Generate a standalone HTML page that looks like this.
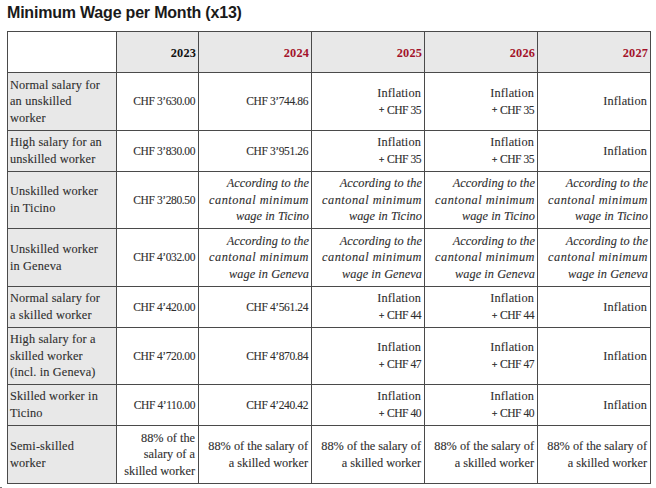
<!DOCTYPE html>
<html><head><meta charset="utf-8">
<style>
html,body{margin:0;padding:0;background:#fff;width:656px;height:488px;overflow:hidden}
body{position:relative;font-family:"Liberation Serif",serif;color:#2e2e2e}
td{-webkit-text-stroke:0.1px #2e2e2e}
h1{position:absolute;left:7px;top:3px;margin:0;font-family:"Liberation Sans",sans-serif;font-weight:bold;font-size:16px;letter-spacing:-0.2px;line-height:20px;color:#1a1a1a;white-space:nowrap}
table{position:absolute;left:7px;top:31px;border-collapse:collapse;table-layout:fixed;width:644px}
td,th{border:1px solid #4a4a4a;letter-spacing:0.15px;padding:0 3px 0 2px;vertical-align:middle;text-align:right;font-size:12.3px;line-height:16.6px;font-weight:normal;white-space:nowrap;overflow:hidden}
th{background:#e8e8e8;font-weight:bold;color:#111;padding-right:2px;padding-top:2px}
th.r{color:#a3122a}
th.blank{background:#fff}
td.l{background:#e8e8e8;text-align:left}
.n{font-size:11.5px;letter-spacing:-0.4px}
.p{font-size:11.6px;letter-spacing:-0.5px;line-height:10px}
.i{font-style:italic;letter-spacing:0.05px;padding-right:2px}
.e{letter-spacing:0}
.c{letter-spacing:0.5px}
.pl{font-size:10px;font-weight:bold;position:relative;top:-0.5px;left:1px;margin-right:1.5px}
.dot{position:absolute;left:0;top:487px;width:2px;height:1px;background:#777}
</style></head><body>
<h1>Minimum Wage per Month (x13)</h1>
<table>
<colgroup><col style="width:109px"><col style="width:82px"><col style="width:113px"><col style="width:113px"><col style="width:113px"><col style="width:113px"></colgroup>
<tr style="height:41px"><th class="blank"></th><th>2023</th><th class="r">2024</th><th class="r">2025</th><th class="r">2026</th><th class="r">2027</th></tr>
<tr style="height:58px"><td class="l">Normal salary for<br>an unskilled<br>worker</td><td class="n">CHF 3’630.00</td><td class="n">CHF 3’744.86</td><td>Inflation<br><span class="p"><span class="pl">+</span> CHF 35</span></td><td>Inflation<br><span class="p"><span class="pl">+</span> CHF 35</span></td><td>Inflation</td></tr>
<tr style="height:41px"><td class="l">High salary for an<br>unskilled worker</td><td class="n">CHF 3’830.00</td><td class="n">CHF 3’951.26</td><td>Inflation<br><span class="p"><span class="pl">+</span> CHF 35</span></td><td>Inflation<br><span class="p"><span class="pl">+</span> CHF 35</span></td><td>Inflation</td></tr>
<tr style="height:57px"><td class="l">Unskilled worker<br>in Ticino</td><td class="n">CHF 3’280.50</td><td class="i">According to the<br><span class="c">cantonal minimum</span><br>wage in Ticino</td><td class="i">According to the<br><span class="c">cantonal minimum</span><br>wage in Ticino</td><td class="i">According to the<br><span class="c">cantonal minimum</span><br>wage in Ticino</td><td class="i">According to the<br><span class="c">cantonal minimum</span><br>wage in Ticino</td></tr>
<tr style="height:58px"><td class="l">Unskilled worker<br>in Geneva</td><td class="n">CHF 4’032.00</td><td class="i">According to the<br><span class="c">cantonal minimum</span><br>wage in Geneva</td><td class="i">According to the<br><span class="c">cantonal minimum</span><br>wage in Geneva</td><td class="i">According to the<br><span class="c">cantonal minimum</span><br>wage in Geneva</td><td class="i">According to the<br><span class="c">cantonal minimum</span><br>wage in Geneva</td></tr>
<tr style="height:41px"><td class="l">Normal salary for<br>a skilled worker</td><td class="n">CHF 4’420.00</td><td class="n">CHF 4’561.24</td><td>Inflation<br><span class="p"><span class="pl">+</span> CHF 44</span></td><td>Inflation<br><span class="p"><span class="pl">+</span> CHF 44</span></td><td>Inflation</td></tr>
<tr style="height:57px"><td class="l">High salary for a<br>skilled worker<br>(incl. in Geneva)</td><td class="n">CHF 4’720.00</td><td class="n">CHF 4’870.84</td><td>Inflation<br><span class="p"><span class="pl">+</span> CHF 47</span></td><td>Inflation<br><span class="p"><span class="pl">+</span> CHF 47</span></td><td>Inflation</td></tr>
<tr style="height:41px"><td class="l">Skilled worker in<br>Ticino</td><td class="n">CHF 4’110.00</td><td class="n">CHF 4’240.42</td><td>Inflation<br><span class="p"><span class="pl">+</span> CHF 40</span></td><td>Inflation<br><span class="p"><span class="pl">+</span> CHF 40</span></td><td>Inflation</td></tr>
<tr style="height:58px"><td class="l">Semi-skilled<br>worker</td><td class="e">88% of the<br>salary of a<br>skilled worker</td><td class="e">88% of the salary of<br>a skilled worker</td><td class="e">88% of the salary of<br>a skilled worker</td><td class="e">88% of the salary of<br>a skilled worker</td><td class="e">88% of the salary of<br>a skilled worker</td></tr>
</table>
<div class="dot"></div>
</body></html>
